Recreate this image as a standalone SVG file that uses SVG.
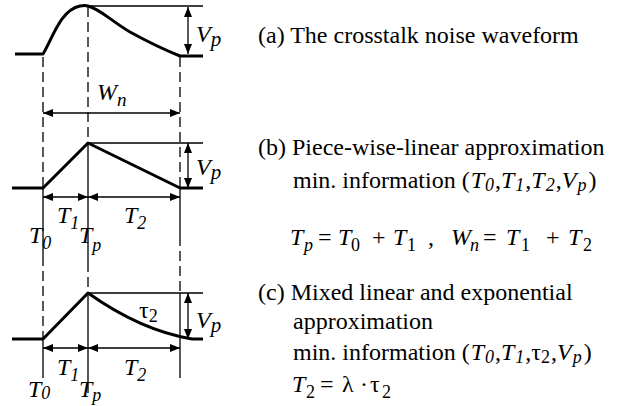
<svg xmlns="http://www.w3.org/2000/svg" width="631" height="406" viewBox="0 0 631 406">
<style>
.t{font-family:"Liberation Serif","Times New Roman",serif;font-size:24px;fill:#000}
.i{font-style:italic}
.s{font-size:18px}
.w{fill:none;stroke:#000;stroke-width:3;stroke-linejoin:round}
.thin{fill:none;stroke:#000;stroke-width:1.3}
.dash{fill:none;stroke:#000;stroke-width:1.3;stroke-dasharray:10,5}
.arr{fill:none;stroke:#000;stroke-width:1.3;marker-start:url(#ah);marker-end:url(#ah)}
</style>
<defs>
<marker id="ah" viewBox="0 0 10 8" refX="10" refY="4" markerWidth="10" markerHeight="8" markerUnits="userSpaceOnUse" orient="auto-start-reverse">
<path d="M0,0 L10,4 L0,8 Z" fill="#000"/>
</marker>
</defs>
<g id="connectors">
<path class="dash" d="M43,57 V188 M88,7 V143 M180,57 V188"/>
<path class="dash" d="M43,256 V339 M88,262 V293 M180,236 V293"/>
<path class="thin" d="M43,188 V256 M88,143 V262 M180,188 V236"/>
<path class="thin" d="M43,339 V378 M88,293 V393 M180,293 V378"/>
<path class="thin" d="M88,6 H203 M88,143 H203 M88,293 H203"/>
<path class="arr" d="M188,7 V54"/>
<path class="arr" d="M43,113 H180"/>
<path class="arr" d="M188,143 V188"/>
<path class="arr" d="M43,197 H88"/>
<path class="arr" d="M88,197 H180"/>
<path class="arr" d="M188,293 V339"/>
<path class="arr" d="M43,348 H88"/>
<path class="arr" d="M88,348 H180"/>
</g>
<g id="waveform-a">
<path class="w" d="M15,54 H43 C52,40 60,10 80,6 Q85,5 88,6 C100,9 110,20 130,32 C150,43 165,50 180,56 H203"/>
<text class="t i" x="196" y="42" font-size="28">V<tspan font-size="21" dy="4">p</tspan></text>
<text class="t i" x="97" y="100" font-size="26">W<tspan font-size="19" dy="6">n</tspan></text>
</g>
<g id="waveform-b">
<path class="w" d="M12,188 H43 L88,143 L180,188 H203"/>
<text class="t i" x="196" y="175" font-size="28">V<tspan font-size="21" dy="4">p</tspan></text>
<text class="t i" x="57" y="223">T<tspan class="s" dy="6">1</tspan></text>
<text class="t i" x="124" y="223">T<tspan class="s" dy="6">2</tspan></text>
<text class="t i" x="29" y="243">T<tspan class="s" dy="6">0</tspan></text>
<text class="t i" x="79" y="243">T<tspan class="s" dy="8">p</tspan></text>
</g>
<g id="waveform-c">
<path class="w" d="M12,339 H43 L88,293 C112,310 150,332 192,339 H203"/>
<text class="t i" x="196" y="328" font-size="28">V<tspan font-size="21" dy="4">p</tspan></text>
<text class="t" x="139" y="318">τ<tspan class="s" dy="4">2</tspan></text>
<text class="t i" x="57" y="375">T<tspan class="s" dy="6">1</tspan></text>
<text class="t i" x="124" y="375">T<tspan class="s" dy="6">2</tspan></text>
<text class="t i" x="28" y="397">T<tspan class="s" dy="2">0</tspan></text>
<text class="t i" x="79" y="397">T<tspan class="s" dy="4">p</tspan></text>
</g>
<g id="caption-a">
<text class="t" x="258" y="43">(a) The crosstalk noise waveform</text>
</g>
<g id="caption-b">
<text class="t" x="258" y="155">(b) Piece-wise-linear approximation</text>
<text class="t" x="293" y="188">min. information (<tspan class="i" dx="1">T</tspan><tspan class="i s" dx="1" dy="3">0</tspan><tspan dx="1" dy="-3">,</tspan><tspan class="i">T</tspan><tspan class="i s" dx="1" dy="3">1</tspan><tspan dx="1" dy="-3">,</tspan><tspan class="i">T</tspan><tspan class="i s" dx="1" dy="3">2</tspan><tspan dx="1" dy="-3">,</tspan><tspan class="i">V</tspan><tspan class="i s" dx="1" dy="3">p</tspan><tspan dx="2" dy="-3">)</tspan></text>
<text class="t" y="245"><tspan class="i" x="290">T</tspan><tspan class="i s" x="304" dy="6">p</tspan><tspan x="318" dy="-6">=</tspan><tspan class="i" x="338">T</tspan><tspan class="s" x="351" dy="6">0</tspan><tspan x="372" dy="-6">+</tspan><tspan class="i" x="393">T</tspan><tspan class="s" x="407" dy="6">1</tspan><tspan x="428" dy="-6">,</tspan><tspan class="i" x="451">W</tspan><tspan class="i s" x="470" dy="6">n</tspan><tspan x="483" dy="-6">=</tspan><tspan class="i" x="506">T</tspan><tspan class="s" x="521" dy="6">1</tspan><tspan x="546" dy="-6">+</tspan><tspan class="i" x="568">T</tspan><tspan class="s" x="583" dy="6">2</tspan></text>
</g>
<g id="caption-c">
<text class="t" x="258" y="300">(c) Mixed linear and exponential</text>
<text class="t" x="293" y="329">approximation</text>
<text class="t" x="293" y="360">min. information (<tspan class="i" dx="1">T</tspan><tspan class="i s" dx="1" dy="3">0</tspan><tspan dx="1" dy="-3">,</tspan><tspan class="i">T</tspan><tspan class="i s" dx="1" dy="3">1</tspan><tspan dx="1" dy="-3">,τ</tspan><tspan class="s" dy="3">2</tspan><tspan dx="1" dy="-3">,</tspan><tspan class="i">V</tspan><tspan class="i s" dx="1" dy="3">p</tspan><tspan dx="2" dy="-3">)</tspan></text>
<text class="t" y="392"><tspan class="i" x="292">T</tspan><tspan class="s" x="306" dy="6">2</tspan><tspan x="320" dy="-6">=</tspan><tspan x="342">λ</tspan><tspan x="360">·</tspan><tspan x="370">τ</tspan><tspan class="s" x="382" dy="6">2</tspan></text>
</g>
</svg>
